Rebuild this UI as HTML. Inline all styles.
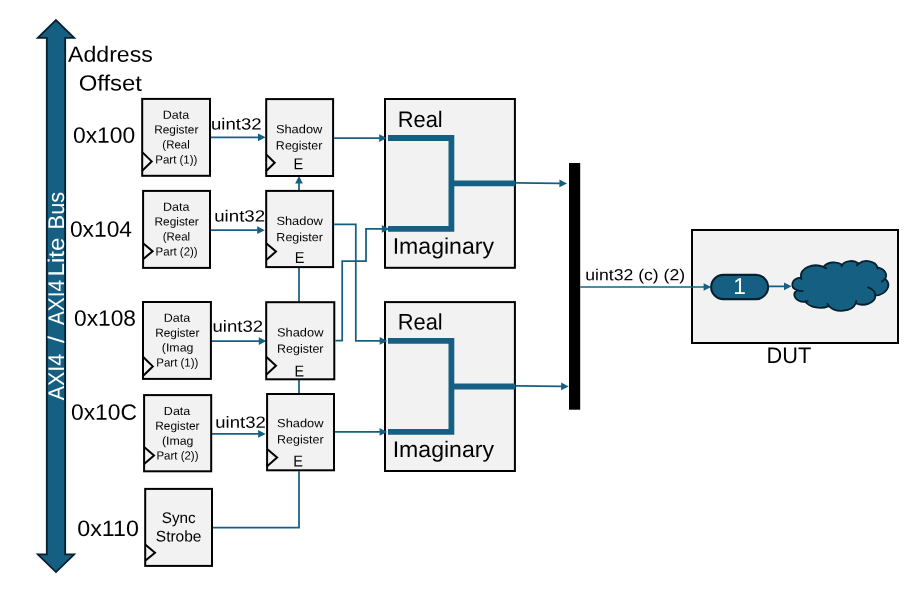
<!DOCTYPE html>
<html lang="en">
<head>
<meta charset="utf-8">
<title>AXI4 register interface diagram</title>
<style>
html,body{margin:0;padding:0;background:#fff;}
body{width:924px;height:593px;overflow:hidden;}
svg{display:block;font-family:'Liberation Sans', Arial, sans-serif;}
</style>
</head>
<body>
<svg style="will-change:transform" width="924" height="593" viewBox="0 0 924 593" font-family="'Liberation Sans', Arial, sans-serif">
<rect width="924" height="593" fill="#fff"/>
<polyline points="210.00,137.30 258.50,137.30" fill="none" stroke="#156082" stroke-width="1.75" stroke-linecap="butt" stroke-linejoin="miter"/>
<polygon points="265.60,137.30 258.00,141.15 258.00,133.45" fill="#156082"/>
<polyline points="210.00,230.20 257.70,230.20" fill="none" stroke="#156082" stroke-width="1.75" stroke-linecap="butt" stroke-linejoin="miter"/>
<polygon points="264.80,230.20 257.20,234.05 257.20,226.35" fill="#156082"/>
<polyline points="210.40,341.10 259.30,341.10" fill="none" stroke="#156082" stroke-width="1.75" stroke-linecap="butt" stroke-linejoin="miter"/>
<polygon points="266.40,341.10 258.80,344.95 258.80,337.25" fill="#156082"/>
<polyline points="211.00,433.90 258.60,433.90" fill="none" stroke="#156082" stroke-width="1.75" stroke-linecap="butt" stroke-linejoin="miter"/>
<polygon points="265.70,433.90 258.10,437.75 258.10,430.05" fill="#156082"/>
<polyline points="213.00,527.50 299.00,527.50 299.00,471.30" fill="none" stroke="#156082" stroke-width="1.75" stroke-linecap="butt" stroke-linejoin="miter"/>
<polyline points="299.00,394.50 299.00,379.50" fill="none" stroke="#156082" stroke-width="1.75" stroke-linecap="butt" stroke-linejoin="miter"/>
<polyline points="299.00,301.50 299.00,267.40" fill="none" stroke="#156082" stroke-width="1.75" stroke-linecap="butt" stroke-linejoin="miter"/>
<polyline points="299.00,191.40 299.00,183.10" fill="none" stroke="#156082" stroke-width="1.75" stroke-linecap="butt" stroke-linejoin="miter"/>
<polygon points="299.00,176.00 302.85,183.60 295.15,183.60" fill="#156082"/>
<polygon points="56.00,20.10 74.20,37.80 65.20,37.80 65.20,554.40 74.20,554.40 56.00,572.10 37.80,554.40 46.80,554.40 46.80,37.80 37.80,37.80" fill="#156082" stroke="#06202d" stroke-width="1.8" stroke-linejoin="miter"/>
<text transform="translate(63.90 400.15) rotate(-90.03) scale(0.9440 1)" font-size="22.6" fill="#fff">AXI4</text>
<text transform="translate(63.90 343.10) rotate(-90.03) scale(1.1321 1)" font-size="22.6" fill="#fff">/</text>
<text transform="translate(63.90 325.05) rotate(-90.03) scale(0.9212 1)" font-size="22.6" fill="#fff">AXI4</text>
<text transform="translate(63.90 276.49) rotate(-90.03) scale(1.0697 1)" font-size="22.6" fill="#fff">Lite</text>
<text transform="translate(63.90 229.40) rotate(-90.03) scale(0.9649 1)" font-size="22.6" fill="#fff">Bus</text>
<text transform="translate(68.04 61.70) rotate(0.03) scale(1.0506 1)" font-size="22.0" fill="#000">Address</text>
<text transform="translate(78.66 90.60) rotate(0.03) scale(1.0878 1)" font-size="22.0" fill="#000">Offset</text>
<text transform="translate(72.99 142.70) rotate(0.03) scale(1.0303 1)" font-size="22.2" fill="#000">0x100</text>
<text transform="translate(69.89 236.80) rotate(0.03) scale(1.0281 1)" font-size="22.2" fill="#000">0x104</text>
<text transform="translate(73.99 325.70) rotate(0.03) scale(1.0255 1)" font-size="22.2" fill="#000">0x108</text>
<text transform="translate(70.99 419.70) rotate(0.03) scale(1.0275 1)" font-size="22.2" fill="#000">0x10C</text>
<text transform="translate(77.27 535.90) rotate(0.03) scale(1.0489 1)" font-size="22.2" fill="#000">0x110</text>
<rect x="142.20" y="98.90" width="67.80" height="76.90" fill="#f2f2f2" stroke="#000" stroke-width="2.0"/>
<text transform="translate(162.77 118.70) rotate(0.03) scale(1.0707 1)" font-size="11.7" fill="#000">Data</text>
<text transform="translate(154.17 133.60) rotate(0.03) scale(1.0162 1)" font-size="11.7" fill="#000">Register</text>
<text transform="translate(162.33 148.50) rotate(0.03) scale(0.9833 1)" font-size="11.7" fill="#000">(Real</text>
<text transform="translate(155.30 163.40) rotate(0.03) scale(0.9827 1)" font-size="11.7" fill="#000">Part (1))</text>
<polyline points="142.20,152.10 151.70,161.40 142.20,170.70" fill="none" stroke="#000" stroke-width="2" stroke-linejoin="miter"/>
<rect x="143.10" y="190.90" width="66.90" height="77.00" fill="#f2f2f2" stroke="#000" stroke-width="2.0"/>
<text transform="translate(163.07 210.70) rotate(0.03) scale(1.0707 1)" font-size="11.7" fill="#000">Data</text>
<text transform="translate(154.47 225.60) rotate(0.03) scale(1.0162 1)" font-size="11.7" fill="#000">Register</text>
<text transform="translate(162.63 240.50) rotate(0.03) scale(0.9833 1)" font-size="11.7" fill="#000">(Real</text>
<text transform="translate(155.60 255.40) rotate(0.03) scale(0.9827 1)" font-size="11.7" fill="#000">Part (2))</text>
<polyline points="143.10,243.20 152.60,251.20 143.10,259.20" fill="none" stroke="#000" stroke-width="2" stroke-linejoin="miter"/>
<rect x="143.00" y="302.00" width="67.90" height="76.90" fill="#f2f2f2" stroke="#000" stroke-width="2.0"/>
<text transform="translate(163.77 321.80) rotate(0.03) scale(1.0707 1)" font-size="11.7" fill="#000">Data</text>
<text transform="translate(155.17 336.70) rotate(0.03) scale(1.0162 1)" font-size="11.7" fill="#000">Register</text>
<text transform="translate(161.83 351.60) rotate(0.03) scale(1.0552 1)" font-size="11.7" fill="#000">(Imag</text>
<text transform="translate(156.30 366.50) rotate(0.03) scale(0.9827 1)" font-size="11.7" fill="#000">Part (1))</text>
<polyline points="143.00,356.80 152.80,366.40 143.00,376.00" fill="none" stroke="#000" stroke-width="2" stroke-linejoin="miter"/>
<rect x="144.10" y="395.10" width="67.10" height="76.20" fill="#f2f2f2" stroke="#000" stroke-width="2.0"/>
<text transform="translate(163.87 414.90) rotate(0.03) scale(1.0707 1)" font-size="11.7" fill="#000">Data</text>
<text transform="translate(155.27 429.80) rotate(0.03) scale(1.0162 1)" font-size="11.7" fill="#000">Register</text>
<text transform="translate(161.93 444.70) rotate(0.03) scale(1.0552 1)" font-size="11.7" fill="#000">(Imag</text>
<text transform="translate(156.40 459.60) rotate(0.03) scale(0.9827 1)" font-size="11.7" fill="#000">Part (2))</text>
<polyline points="144.10,447.10 154.00,455.60 144.10,464.10" fill="none" stroke="#000" stroke-width="2" stroke-linejoin="miter"/>
<rect x="145.20" y="488.90" width="66.80" height="77.00" fill="#f2f2f2" stroke="#000" stroke-width="2.0"/>
<text transform="translate(161.81 523.10) rotate(0.03) scale(0.9842 1)" font-size="15.5" fill="#000">Sync</text>
<text transform="translate(155.80 541.60) rotate(0.03) scale(1.0002 1)" font-size="15.5" fill="#000">Strobe</text>
<polyline points="145.20,544.60 155.00,552.70 145.20,560.80" fill="none" stroke="#000" stroke-width="2" stroke-linejoin="miter"/>
<text transform="translate(210.99 129.50) rotate(0.03) scale(1.1482 1)" font-size="16.2" fill="#000">uint32</text>
<text transform="translate(214.18 221.50) rotate(0.03) scale(1.1553 1)" font-size="16.2" fill="#000">uint32</text>
<text transform="translate(212.49 331.70) rotate(0.03) scale(1.1482 1)" font-size="16.2" fill="#000">uint32</text>
<text transform="translate(215.30 427.70) rotate(0.03) scale(1.1434 1)" font-size="16.2" fill="#000">uint32</text>
<rect x="266.20" y="99.10" width="66.90" height="76.90" fill="#f2f2f2" stroke="#000" stroke-width="2.0"/>
<text transform="translate(275.92 133.30) rotate(0.03) scale(1.0707 1)" font-size="12" fill="#000">Shadow</text>
<text transform="translate(275.87 149.40) rotate(0.03) scale(1.0414 1)" font-size="12" fill="#000">Register</text>
<text transform="translate(293.50 169.30) rotate(0.03) scale(0.9217 1)" font-size="15.8" fill="#000">E</text>
<polyline points="266.20,154.40 274.70,162.70 266.20,171.00" fill="none" stroke="#000" stroke-width="2" stroke-linejoin="miter"/>
<rect x="266.20" y="190.90" width="66.90" height="76.20" fill="#f2f2f2" stroke="#000" stroke-width="2.0"/>
<text transform="translate(276.42 225.10) rotate(0.03) scale(1.0707 1)" font-size="12" fill="#000">Shadow</text>
<text transform="translate(276.37 241.20) rotate(0.03) scale(1.0414 1)" font-size="12" fill="#000">Register</text>
<text transform="translate(294.70 262.90) rotate(0.03) scale(0.9217 1)" font-size="15.8" fill="#000">E</text>
<polyline points="266.20,243.20 276.00,251.60 266.20,260.00" fill="none" stroke="#000" stroke-width="2" stroke-linejoin="miter"/>
<rect x="266.20" y="302.20" width="68.10" height="77.10" fill="#f2f2f2" stroke="#000" stroke-width="2.0"/>
<text transform="translate(277.02 336.60) rotate(0.03) scale(1.0707 1)" font-size="12" fill="#000">Shadow</text>
<text transform="translate(276.97 352.70) rotate(0.03) scale(1.0414 1)" font-size="12" fill="#000">Register</text>
<text transform="translate(294.61 376.60) rotate(0.03) scale(0.9100 1)" font-size="15.8" fill="#000">E</text>
<polyline points="266.20,356.80 276.00,365.80 266.20,374.80" fill="none" stroke="#000" stroke-width="2" stroke-linejoin="miter"/>
<rect x="267.10" y="394.00" width="66.90" height="76.30" fill="#f2f2f2" stroke="#000" stroke-width="2.0"/>
<text transform="translate(277.12 427.30) rotate(0.03) scale(1.0707 1)" font-size="12" fill="#000">Shadow</text>
<text transform="translate(277.07 443.60) rotate(0.03) scale(1.0414 1)" font-size="12" fill="#000">Register</text>
<text transform="translate(293.30 466.50) rotate(0.03) scale(0.9217 1)" font-size="15.8" fill="#000">E</text>
<polyline points="267.10,448.90 277.10,457.60 267.10,466.30" fill="none" stroke="#000" stroke-width="2" stroke-linejoin="miter"/>
<rect x="385.00" y="99.00" width="129.90" height="168.80" fill="#f2f2f2" stroke="#000" stroke-width="2.0"/>
<rect x="385.00" y="302.10" width="129.90" height="168.90" fill="#f2f2f2" stroke="#000" stroke-width="2.0"/>
<polyline points="334.10,138.10 379.70,138.10" fill="none" stroke="#156082" stroke-width="1.75" stroke-linecap="butt" stroke-linejoin="miter"/>
<polygon points="386.80,138.10 379.20,141.95 379.20,134.25" fill="#156082"/>
<polyline points="334.10,224.30 355.80,224.30 355.80,340.95 380.20,340.95" fill="none" stroke="#156082" stroke-width="1.75" stroke-linecap="butt" stroke-linejoin="miter"/>
<polygon points="387.30,340.95 379.70,344.80 379.70,337.10" fill="#156082"/>
<polyline points="335.30,340.50 342.20,340.50 342.20,261.00 366.00,261.00 366.00,228.95 382.30,228.95" fill="none" stroke="#156082" stroke-width="1.75" stroke-linecap="butt" stroke-linejoin="miter"/>
<polygon points="389.40,228.95 381.80,232.80 381.80,225.10" fill="#156082"/>
<polyline points="335.00,431.90 380.10,431.90" fill="none" stroke="#156082" stroke-width="1.75" stroke-linecap="butt" stroke-linejoin="miter"/>
<polygon points="387.20,431.90 379.60,435.75 379.60,428.05" fill="#156082"/>
<polyline points="388.00,138.00 451.40,138.00 451.40,228.95 388.00,228.95" fill="none" stroke="#156082" stroke-width="5.8" stroke-linecap="butt" stroke-linejoin="miter"/>
<polyline points="451.40,183.30 515.20,183.30" fill="none" stroke="#156082" stroke-width="5.8" stroke-linecap="butt" stroke-linejoin="miter"/>
<text transform="translate(397.70 126.90) rotate(0.03) scale(0.9673 1)" font-size="22.6" fill="#000">Real</text>
<text transform="translate(392.66 253.70) rotate(0.03) scale(1.0220 1)" font-size="22.6" fill="#000">Imaginary</text>
<polyline points="388.00,340.95 451.40,340.95 451.40,431.90 388.00,431.90" fill="none" stroke="#156082" stroke-width="5.8" stroke-linecap="butt" stroke-linejoin="miter"/>
<polyline points="451.40,386.50 515.20,386.50" fill="none" stroke="#156082" stroke-width="5.8" stroke-linecap="butt" stroke-linejoin="miter"/>
<text transform="translate(397.70 329.50) rotate(0.03) scale(0.9673 1)" font-size="22.6" fill="#000">Real</text>
<text transform="translate(392.66 457.00) rotate(0.03) scale(1.0220 1)" font-size="22.6" fill="#000">Imaginary</text>
<polyline points="515.50,182.90 559.90,183.42" fill="none" stroke="#156082" stroke-width="1.7" stroke-linecap="butt" stroke-linejoin="miter"/>
<polygon points="567.00,183.50 559.36,187.26 559.45,179.56" fill="#156082"/>
<polyline points="515.50,385.80 561.60,386.41" fill="none" stroke="#156082" stroke-width="1.7" stroke-linecap="butt" stroke-linejoin="miter"/>
<polygon points="568.70,386.50 561.05,390.25 561.15,382.55" fill="#156082"/>
<rect x="569.0" y="163" width="11.2" height="246.7" fill="#000"/>
<rect x="692.00" y="230.00" width="206.00" height="113.00" fill="#f2f2f2" stroke="#000" stroke-width="2.0"/>
<text transform="translate(766.51 363.00) rotate(0.03) scale(0.9621 1)" font-size="22.6" fill="#000">DUT</text>
<text transform="translate(585.25 280.30) rotate(0.03) scale(1.1022 1)" font-size="16" fill="#000">uint32 (c) (2)</text>
<polyline points="580.20,287.00 704.10,287.00" fill="none" stroke="#156082" stroke-width="1.7" stroke-linecap="butt" stroke-linejoin="miter"/>
<polygon points="711.20,287.00 703.60,290.85 703.60,283.15" fill="#156082"/>
<polyline points="768.40,286.40 784.50,286.33" fill="none" stroke="#156082" stroke-width="1.7" stroke-linecap="butt" stroke-linejoin="miter"/>
<polygon points="791.60,286.30 784.02,290.18 783.98,282.48" fill="#156082"/>
<rect x="711.15" y="274.85" width="56.90" height="24.30" rx="12.15" fill="#156082" stroke="#06202d" stroke-width="2.1"/>
<text transform="translate(739.7 294.0) rotate(0.03)" font-size="22.8" fill="#fff" text-anchor="middle">1</text>
<path d="M801.05 277.42 A14.98 10.59 0 0 1 823.46 266.85 A11.83 8.38 0 0 1 842.20 264.81 A9.68 6.85 0 0 1 858.56 263.71 A10.77 7.60 0 0 1 877.37 267.28 A11.83 8.38 0 0 1 885.14 278.67 A15.02 10.63 0 0 1 875.35 295.67 A12.83 9.07 0 0 1 855.73 303.29 A14.97 10.62 0 0 1 828.95 306.11 A17.12 12.15 0 0 1 805.27 301.74 A9.67 6.82 0 0 1 797.09 290.30 A9.64 6.85 0 0 1 800.97 277.57 Z" fill="#156082" stroke="#06202d" stroke-width="1.8" stroke-linejoin="round"/>
<path d="M802.81 291.03 A9.64 6.85 0 0 1 797.19 290.11 M807.76 301.08 A9.67 6.82 0 0 1 805.31 301.52 M828.94 305.91 A14.97 10.62 0 0 1 827.46 303.91 M856.33 300.91 A14.97 10.62 0 0 1 855.74 303.11 M868.08 287.31 A12.83 9.07 0 0 1 875.29 295.54 M885.09 278.55 A11.83 8.38 0 0 1 881.88 281.63 M877.39 267.10 A10.77 7.60 0 0 1 877.56 268.56 M856.88 265.41 A10.77 7.60 0 0 1 858.53 263.55 M841.50 266.29 A9.68 6.85 0 0 1 842.30 264.69 M823.45 266.84 A14.98 10.59 0 0 1 826.33 268.39 M801.55 279.05 A14.98 10.59 0 0 1 801.05 277.42" fill="none" stroke="#06202d" stroke-width="1.8" stroke-linecap="round"/>
</svg>
</body>
</html>
